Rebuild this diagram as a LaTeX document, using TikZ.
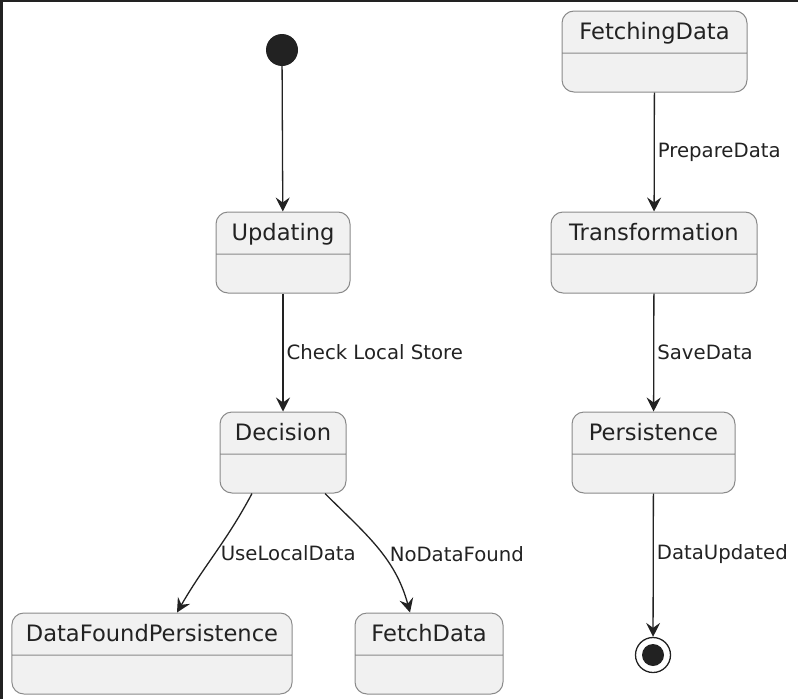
\documentclass[tikz,border=0pt]{standalone}
\usepackage{fontspec}
\setmainfont{DejaVu Sans}
\usepackage{xcolor}
\usepackage{tikz}
\usetikzlibrary{shapes.multipart,arrows.meta,positioning}
\definecolor{stfill}{HTML}{F1F1F1}
\definecolor{stline}{HTML}{8A8A8A}
\definecolor{ink}{HTML}{222222}
\tikzset{
  stbox/.style   = {rectangle split, rectangle split parts=2, draw=stline, fill=stfill,
                    rounded corners=12pt, line width=1pt, text=ink,
                    font=\fontsize{22.6}{27}\selectfont, inner xsep=14pt, inner ysep=10pt,
                    text height=18pt, text depth=3pt,
                    rectangle split empty part height=18pt,
                    rectangle split empty part depth=0pt},
  initial/.style = {circle, fill=ink, minimum size=32pt, inner sep=0pt},
  final/.style   = {circle, draw=ink, line width=1.3pt, minimum size=35pt, inner sep=0pt,
                    path picture={\fill[ink] (path picture bounding box.center) circle (11pt);}},
  trans/.style   = {-{Stealth[length=14pt,width=14pt,inset=5pt]}, line width=1.3pt, ink},
  tlab/.style    = {font=\fontsize{19.7}{23}\selectfont, text=ink, anchor=west, inner sep=3pt},
}
\begin{document}
\begin{tikzpicture}[x=1pt,y=-1pt]
\useasboundingbox (0,0) rectangle (798,699);
\fill[ink] (0,0) rectangle (798,2);
\fill[ink] (0,0) rectangle (3,699);
% left column
\node[initial] (start) at (282,50) {};
\node[stbox, minimum width=134pt] (upd) at (283,252.5) {Updating\nodepart{two}};
\node[stbox, minimum width=126pt] (dec) at (283,452.5) {Decision\nodepart{two}};
\node[stbox, minimum width=276pt] (dfp) at (152,653.5) {DataFoundPersistence\nodepart{two}};
\node[stbox, minimum width=148pt] (fetch) at (429,653.5) {FetchData\nodepart{two}};
% right column
\node[stbox, minimum width=185pt] (fdata) at (654.5,51.5) {FetchingData\nodepart{two}};
\node[stbox, minimum width=206pt] (trf) at (654,252.5) {Transformation\nodepart{two}};
\node[stbox, minimum width=163pt] (pers) at (653.5,452.5) {Persistence\nodepart{two}};
\node[final] (stop) at (653,655) {};
\draw[trans] (start) -- (upd);
\draw[trans] (upd) -- node[tlab] {Check Local Store} (dec);
\draw[trans] ([xshift=-31pt]dec.south) to[out=-118,in=60] node[tlab, pos=0.5, xshift=2pt] {UseLocalData} ([xshift=25pt]dfp.north);
\draw[trans] ([xshift=42pt]dec.south) to[out=-45,in=105] node[tlab, pos=0.56, xshift=4pt] {NoDataFound} ([xshift=-19pt]fetch.north);
\draw[trans] (fdata) -- node[tlab] {PrepareData} (trf);
\draw[trans] (trf) -- node[tlab] {SaveData} (pers);
\draw[trans] (pers) -- node[tlab, pos=0.42] {DataUpdated} (stop);
\end{tikzpicture}
\end{document}
